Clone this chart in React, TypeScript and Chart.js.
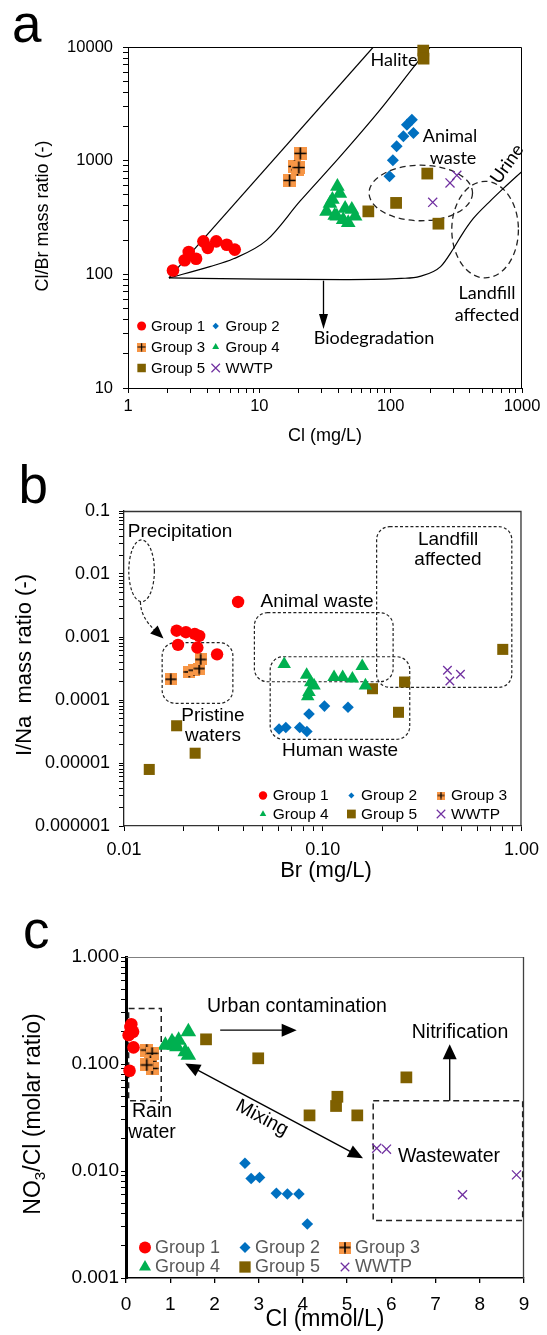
import React, { useEffect, useRef } from "react";
import { Chart, registerables } from "chart.js";
import { drawPoint } from "chart.js/helpers";

Chart.register(...registerables);

type Pt = [number, number];
const ARIAL = "'Liberation Sans', Arial, Helvetica, sans-serif";
const CALIBRI = "Lato, 'Open Sans', sans-serif";

const RED = "#FF0000";
const BLUE = "#0070C0";
const ORANGE = "#F79646";
const GREEN = "#00B050";
const BROWN = "#7F6000";
const PURPLE = "#7030A0";

const GROUP_LABELS = ["Group 1", "Group 2", "Group 3", "Group 4", "Group 5", "WWTP"];

// ---------------- Panel a : Cl (mg/L) vs Cl/Br mass ratio ----------------
const A_X_TICKS = [1, 10, 100, 1000];
const A_X_LABELS = ["1", "10", "100", "1000"];
const A_Y_TICKS = [10, 100, 1000, 10000];
const A_Y_LABELS = ["10", "100", "1000", "10000"];
const A_G1: Pt[] = [[2.2, 108], [2.7, 133], [2.9, 157], [3.3, 137], [3.75, 195], [4.05, 171], [4.7, 195], [5.65, 182], [6.5, 165]];
const A_G2: Pt[] = [[98, 728], [104, 1007], [111, 1337], [125, 1637], [133, 2075], [145, 2295], [149, 1754]];
const A_G3: Pt[] = [[17, 670], [18.5, 890], [19.5, 830], [20, 870], [20.5, 1160]];
const A_G4: Pt[] = [[32.5, 357], [34.5, 420], [36, 455], [37.5, 330], [38.9, 324], [39.3, 594], [41, 515], [43.5, 302], [45, 380], [47.5, 285], [50.6, 371], [53.6, 324]];
const A_G5: Pt[] = [[67.6, 358], [110, 425], [177, 9300], [178, 7900], [190, 770], [231, 279]];
const A_WWTP: Pt[] = [[209, 430], [283, 637], [319, 743]];
const A_HALITE_UPPER: Pt[] = [[2.05, 93], [73.8, 10000]];
const A_HALITE_LOWER: Pt[] = [[2.05, 93], [4.2, 117], [6.35, 137], [11.4, 200], [20.4, 440], [41, 1080], [83, 2800], [162, 7470], [200, 10000]];
const A_URINE: Pt[] = [[2.05, 93], [10.5, 90.6], [48.6, 90], [120, 92], [167, 96], [240, 117], [300, 168], [350, 225], [426, 310], [560, 430], [722, 570], [1000, 805]];
const A_ELLIPSES: number[][] = [[68.5, 420, 296, 912], [292, 939, 93, 658]]; // xmin,xmax,ymin,ymax
const A_ARROW = [30.8, 88, 33]; // x, from y, to y

// ---------------- Panel b : Br (mg/L) vs I/Na mass ratio ----------------
const B_X_TICKS = [0.01, 0.1, 1];
const B_X_LABELS = ["0.01", "0.10", "1.00"];
const B_Y_TICKS = [0.000001, 0.00001, 0.0001, 0.001, 0.01, 0.1];
const B_Y_LABELS = ["0.000001", "0.00001", "0.0001", "0.001", "0.01", "0.1"];
const B_G1: Pt[] = [[0.0184, 0.00126], [0.0205, 0.00119], [0.0227, 0.00112], [0.0239, 0.00104], [0.0187, 0.00075], [0.0234, 0.00068], [0.0294, 0.00053], [0.0375, 0.0036]];
const B_G2: Pt[] = [[0.0603, 0.0000346], [0.0652, 0.0000367], [0.0766, 0.0000367], [0.0832, 0.0000317], [0.0853, 0.00006], [0.102, 0.00008], [0.134, 0.0000767]];
const B_G3: Pt[] = [[0.0172, 0.000213], [0.0213, 0.000279], [0.0225, 0.000296], [0.0239, 0.000316], [0.0243, 0.00044]];
const B_G4: Pt[] = [[0.064, 0.00037], [0.083, 0.00025], [0.087, 0.00019], [0.0904, 0.00017], [0.0853, 0.000133], [0.084, 0.000114], [0.114, 0.00023], [0.126, 0.00023], [0.141, 0.000218], [0.158, 0.000344], [0.164, 0.00017]];
const B_G5: Pt[] = [[0.0134, 0.0000079], [0.0184, 0.000039], [0.0228, 0.0000143], [0.178, 0.000151], [0.2405, 0.0000638], [0.258, 0.000193], [0.805, 0.000636]];
const B_WWTP: Pt[] = [[0.424, 0.000297], [0.436, 0.0002], [0.493, 0.000256]];
const B_PRECIP: number[] = [0.01057, 0.01422, 0.00363, 0.0347];
const B_BOXES: number[][] = [
  [0.01556, 0.0353, 0.0000887, 0.000813],
  [0.0453, 0.226, 0.000195, 0.00243],
  [0.0544, 0.274, 0.0000238, 0.000486],
  [0.1867, 0.894, 0.000159, 0.0564],
];
const B_CURVE: Pt[] = [[0.0121, 0.0036], [0.0121, 0.00207], [0.0158, 0.00095]];

// ---------------- Panel c : Cl (mmol/L) vs NO3/Cl molar ratio ----------------
const C_Y_TICKS = [0.001, 0.01, 0.1, 1];
const C_Y_LABELS = ["0.001", "0.010", "0.100", "1.000"];
const C_G1: Pt[] = [[0.1, 0.222], [0.12, 0.235], [0.16, 0.2], [0.06, 0.186], [0.17, 0.143], [0.08, 0.0864]];
const C_G2: Pt[] = [[2.69, 0.0118], [2.83, 0.0085], [3.02, 0.0087], [3.4, 0.0062], [3.65, 0.0061], [3.91, 0.0061], [4.1, 0.0032]];
const C_G3: Pt[] = [[0.47, 0.135], [0.59, 0.126], [0.55, 0.105], [0.59, 0.091], [0.47, 0.098]];
const C_G4: Pt[] = [[0.89, 0.15], [1.04, 0.161], [1.09, 0.15], [1.15, 0.145], [1.19, 0.167], [1.34, 0.13], [1.41, 0.2], [1.41, 0.121]];
const C_G5: Pt[] = [[1.81, 0.17], [2.99, 0.113], [4.15, 0.0331], [4.75, 0.0405], [4.78, 0.0494], [5.23, 0.0331], [6.34, 0.075]];
const C_WWTP: Pt[] = [[5.67, 0.0163], [5.89, 0.016], [7.61, 0.006], [8.83, 0.0092]];
const C_RAIN: number[] = [0.059, 0.797, 0.0454, 0.33];
const C_WASTE: number[] = [5.59, 8.97, 0.00344, 0.0454];
const C_URBAN: Pt[] = [[2.13, 0.207], [3.86, 0.207]];
const C_MIXING: Pt[] = [[1.34, 0.101], [5.36, 0.01316]];
const C_NITRI: Pt[] = [[7.32, 0.0454], [7.32, 0.153]];

// ---------------- helpers ----------------
type Style = { ps: any; r: number; fill: string; stroke?: string; bw?: number };

const g3Cache: Record<number, HTMLCanvasElement> = {};
function g3Img(size: number): HTMLCanvasElement {
  if (g3Cache[size]) return g3Cache[size];
  const c = document.createElement("canvas");
  c.width = size;
  c.height = size;
  const g = c.getContext("2d")!;
  g.fillStyle = ORANGE;
  g.fillRect(0, 0, size, size);
  g.strokeStyle = "#000";
  g.lineWidth = size > 10 ? 1.6 : 1.2;
  const m = size / 2;
  const h = size / 2 - 0.5;
  g.beginPath();
  g.moveTo(m - h, m);
  g.lineTo(m + h, m);
  g.moveTo(m, m - h);
  g.lineTo(m, m + h);
  g.stroke();
  g3Cache[size] = c;
  return c;
}

function logTicks(min: number, max: number) {
  const out: number[] = [];
  let e = Math.floor(Math.log10(min) + 1e-9);
  for (let guard = 0; guard < 20; guard++) {
    const base = Math.pow(10, e);
    for (let m = 1; m <= 9; m++) {
      const v = parseFloat((m * base).toPrecision(6));
      if (v > max * (1 + 1e-9)) return out;
      if (v >= min * (1 - 1e-9)) out.push(v);
    }
    e++;
  }
  return out;
}

function labelFor(ticks: number[], labels: string[]) {
  return (v: any) => {
    const n = Number(v);
    const i = ticks.findIndex((t) => Math.abs(t - n) <= Math.abs(t) * 1e-6 + 1e-12);
    return i >= 0 ? labels[i] : "";
  };
}

function ds(data: Pt[], st: Style) {
  return {
    data: data.map(([x, y]) => ({ x, y })),
    pointStyle: st.ps,
    pointRadius: st.r,
    pointHoverRadius: st.r,
    pointBackgroundColor: st.fill,
    pointBorderColor: st.stroke ?? st.fill,
    pointBorderWidth: st.bw ?? 0,
    showLine: false,
    clip: false,
    order: 1,
  };
}

function lineDs(data: Pt[]) {
  return {
    data: data.map(([x, y]) => ({ x, y })),
    showLine: true,
    pointRadius: 0,
    pointHoverRadius: 0,
    borderColor: "#000",
    borderWidth: 1.2,
    cubicInterpolationMode: "monotone",
    order: 10,
  };
}

function P(chart: any, x: number, y: number): [number, number] {
  return [chart.scales.x.getPixelForValue(x), chart.scales.y.getPixelForValue(y)];
}

function head(ctx: CanvasRenderingContext2D, fx: number, fy: number, tx: number, ty: number, len: number, wid: number) {
  const a = Math.atan2(ty - fy, tx - fx);
  const bx = tx - len * Math.cos(a);
  const by = ty - len * Math.sin(a);
  ctx.beginPath();
  ctx.moveTo(tx, ty);
  ctx.lineTo(bx + (wid / 2) * Math.sin(a), by - (wid / 2) * Math.cos(a));
  ctx.lineTo(bx - (wid / 2) * Math.sin(a), by + (wid / 2) * Math.cos(a));
  ctx.closePath();
  ctx.fill();
}

function arrow(ctx: CanvasRenderingContext2D, x1: number, y1: number, x2: number, y2: number, len: number, wid: number, both = false) {
  const a = Math.atan2(y2 - y1, x2 - x1);
  const c = Math.cos(a), s = Math.sin(a);
  ctx.beginPath();
  ctx.moveTo(both ? x1 + len * 0.8 * c : x1, both ? y1 + len * 0.8 * s : y1);
  ctx.lineTo(x2 - len * 0.8 * c, y2 - len * 0.8 * s);
  ctx.stroke();
  head(ctx, x1, y1, x2, y2, len, wid);
  if (both) head(ctx, x2, y2, x1, y1, len, wid);
}

function ellipseBox(ctx: CanvasRenderingContext2D, chart: any, b: number[]) {
  const [x0, y0] = P(chart, b[0], b[2]);
  const [x1, y1] = P(chart, b[1], b[3]);
  ctx.beginPath();
  ctx.ellipse((x0 + x1) / 2, (y0 + y1) / 2, Math.abs(x1 - x0) / 2, Math.abs(y1 - y0) / 2, 0, 0, Math.PI * 2);
  ctx.stroke();
}

function rectBox(ctx: CanvasRenderingContext2D, chart: any, b: number[], r: number) {
  const [x0, y0] = P(chart, b[0], b[2]);
  const [x1, y1] = P(chart, b[1], b[3]);
  const l = Math.min(x0, x1), t = Math.min(y0, y1);
  const w = Math.abs(x1 - x0), h = Math.abs(y1 - y0);
  ctx.beginPath();
  if (r > 0 && (ctx as any).roundRect) (ctx as any).roundRect(l, t, w, h, r);
  else ctx.rect(l, t, w, h);
  ctx.stroke();
}

function T(ctx: CanvasRenderingContext2D, s: string, x: number, y: number, font: string, opt: { align?: CanvasTextAlign; color?: string; rot?: number; base?: CanvasTextBaseline } = {}) {
  ctx.save();
  ctx.translate(x, y);
  if (opt.rot) ctx.rotate((opt.rot * Math.PI) / 180);
  ctx.font = font;
  ctx.fillStyle = opt.color ?? "#000";
  ctx.textAlign = opt.align ?? "center";
  ctx.textBaseline = opt.base ?? "middle";
  ctx.fillText(s, 0, 0);
  ctx.restore();
}

function legend(ctx: CanvasRenderingContext2D, styles: Style[], mx: number[], tx: number[], rows: number[], cols: number, font: string, color: string, off: number) {
  styles.forEach((st, i) => {
    const col = i % cols;
    const row = Math.floor(i / cols);
    const y = rows[row] - off;
    ctx.save();
    ctx.fillStyle = st.fill;
    ctx.strokeStyle = st.stroke ?? st.fill;
    ctx.lineWidth = st.bw ?? 0;
    drawPoint(ctx, { pointStyle: st.ps, radius: st.r, rotation: 0, borderWidth: st.bw ?? 0 } as any, mx[col], y);
    ctx.restore();
    T(ctx, GROUP_LABELS[i], tx[col], y + 0.5, font, { align: "left", color });
  });
}

function logAxis(min: number, max: number, ticks: number[], labels: string[], size: number, pad: number, fit: number, vertical: boolean, border: { color: string; width: number }) {
  return {
    type: "logarithmic",
    position: vertical ? "left" : "bottom",
    min,
    max,
    afterBuildTicks: (s: any) => {
      s.ticks = logTicks(min, max).map((value) => ({ value }));
    },
    afterFit: (s: any) => {
      if (vertical) s.width = fit;
      else s.height = fit;
    },
    ticks: { callback: labelFor(ticks, labels), autoSkip: false, maxRotation: 0, minRotation: 0, font: { family: ARIAL, size }, color: "#000", padding: pad },
    grid: { display: true, drawOnChartArea: false, drawTicks: true, tickLength: 5, color: "#000", lineWidth: 1 },
    border: { display: true, color: border.color, width: border.width },
  };
}

function baseOptions(padding: any, scales: any) {
  return {
    responsive: false,
    maintainAspectRatio: false,
    animation: false,
    devicePixelRatio: 1,
    events: [],
    layout: { padding },
    plugins: { legend: { display: false }, tooltip: { enabled: false }, title: { display: false } },
    scales,
  };
}

// ---------------- panel a ----------------
const OFF_A = 0;
function buildA() {
  const S: Style[] = [
    { ps: "circle", r: 6.3, fill: RED },
    { ps: "rectRot", r: 6, fill: BLUE },
    { ps: g3Img(13), r: 6.5, fill: ORANGE },
    { ps: "triangle", r: 8.5, fill: GREEN },
    { ps: "rect", r: 8.3, fill: BROWN },
    { ps: "crossRot", r: 6.4, fill: PURPLE, stroke: PURPLE, bw: 1.3 },
  ];
  const LS: Style[] = [
    { ps: "circle", r: 4.5, fill: RED },
    { ps: "rectRot", r: 3.2, fill: BLUE },
    { ps: g3Img(9), r: 4.5, fill: ORANGE },
    { ps: "triangle", r: 4, fill: GREEN },
    { ps: "rect", r: 6, fill: BROWN },
    { ps: "crossRot", r: 6, fill: PURPLE, stroke: PURPLE, bw: 1.2 },
  ];
  const plugin = {
    id: "panelA",
    beforeDatasetsDraw(chart: any) {
      const { ctx, chartArea: ca } = chart;
      ctx.save();
      ctx.strokeStyle = "#000";
      ctx.lineWidth = 1;
      ctx.beginPath();
      ctx.moveTo(ca.left, ca.top + 0.5);
      ctx.lineTo(ca.right - 0.5, ca.top + 0.5);
      ctx.lineTo(ca.right - 0.5, ca.bottom);
      ctx.stroke();
      ctx.setLineDash([6, 4]);
      ctx.lineWidth = 1.3;
      ctx.strokeStyle = "#222";
      A_ELLIPSES.forEach((b) => ellipseBox(ctx, chart, b));
      ctx.setLineDash([]);
      ctx.strokeStyle = "#000";
      ctx.fillStyle = "#000";
      ctx.lineWidth = 1.3;
      const [ax, ay1] = P(chart, A_ARROW[0], A_ARROW[1]);
      const [, ay2] = P(chart, A_ARROW[0], A_ARROW[2]);
      arrow(ctx, ax, ay1, ax, ay2, 15, 9);
      ctx.restore();
    },
    afterDraw(chart: any) {
      const ctx: CanvasRenderingContext2D = chart.ctx;
      const o = OFF_A;
      T(ctx, "a", 12, 42 - o, `53px ${ARIAL}`, { align: "left", base: "alphabetic" });
      const f = `18px ${CALIBRI}`;
      T(ctx, "Halite", 394, 60 - o, f);
      T(ctx, "Animal", 450, 136 - o, f);
      T(ctx, "waste", 453, 158 - o, f);
      T(ctx, "Urine", 507, 164 - o, f, { rot: -55 });
      T(ctx, "Landfill", 487, 293 - o, f);
      T(ctx, "affected", 487, 315 - o, f);
      T(ctx, "Biodegradation", 374, 338 - o, f);
      T(ctx, "Cl/Br mass ratio (-)", 43, 216 - o, `18px ${ARIAL}`, { rot: -90 });
      T(ctx, "Cl (mg/L)", 325, 436 - o, `18px ${ARIAL}`);
      legend(ctx, LS, [141.6, 215.7], [151, 225.5], [326, 347, 368], 2, `15px ${ARIAL}`, "#000", o);
    },
  };
  return {
    type: "scatter",
    data: {
      datasets: [
        ds(A_G1, S[0]), ds(A_G2, S[1]), ds(A_G3, S[2]), ds(A_G4, S[3]), ds(A_G5, S[4]), ds(A_WWTP, S[5]),
        lineDs(A_HALITE_UPPER), lineDs(A_HALITE_LOWER), lineDs(A_URINE),
      ],
    },
    options: baseOptions({ left: 0, right: 25, top: 47, bottom: 22 }, {
      x: logAxis(1, 1000, A_X_TICKS, A_X_LABELS, 16.5, 4, 40, false, { color: "#000", width: 1 }),
      y: logAxis(10, 10000, A_Y_TICKS, A_Y_LABELS, 16.5, 10, 128, true, { color: "#000", width: 1 }),
    }),
    plugins: [plugin],
  };
}

// ---------------- panel b ----------------
const OFF_B = 450;
function buildB() {
  const S: Style[] = [
    { ps: "circle", r: 6.2, fill: RED },
    { ps: "rectRot", r: 5.8, fill: BLUE },
    { ps: g3Img(12), r: 6, fill: ORANGE },
    { ps: "triangle", r: 7.8, fill: GREEN },
    { ps: "rect", r: 7.8, fill: BROWN },
    { ps: "crossRot", r: 6, fill: PURPLE, stroke: PURPLE, bw: 1.3 },
  ];
  const LS: Style[] = [
    { ps: "circle", r: 4.2, fill: RED },
    { ps: "rectRot", r: 3, fill: BLUE },
    { ps: g3Img(8), r: 4, fill: ORANGE },
    { ps: "triangle", r: 3.8, fill: GREEN },
    { ps: "rect", r: 6.2, fill: BROWN },
    { ps: "crossRot", r: 6, fill: PURPLE, stroke: PURPLE, bw: 1.2 },
  ];
  const plugin = {
    id: "panelB",
    beforeDatasetsDraw(chart: any) {
      const { ctx, chartArea: ca } = chart;
      ctx.save();
      ctx.strokeStyle = "#333";
      ctx.lineWidth = 1.3;
      ctx.beginPath();
      ctx.moveTo(ca.left, ca.top + 0.5);
      ctx.lineTo(ca.right - 0.5, ca.top + 0.5);
      ctx.lineTo(ca.right - 0.5, ca.bottom);
      ctx.stroke();
      ctx.strokeStyle = "#222";
      ctx.lineWidth = 1.2;
      ctx.setLineDash([3, 2.2]);
      ellipseBox(ctx, chart, B_PRECIP);
      B_BOXES.forEach((b) => rectBox(ctx, chart, b, 13));
      const [sx, sy] = P(chart, B_CURVE[0][0], B_CURVE[0][1]);
      const [cx, cy] = P(chart, B_CURVE[1][0], B_CURVE[1][1]);
      const [ex, ey] = P(chart, B_CURVE[2][0], B_CURVE[2][1]);
      const len = 13;
      const a = Math.atan2(ey - cy, ex - cx);
      ctx.beginPath();
      ctx.moveTo(sx, sy);
      ctx.quadraticCurveTo(cx, cy, ex - len * 0.8 * Math.cos(a), ey - len * 0.8 * Math.sin(a));
      ctx.stroke();
      ctx.setLineDash([]);
      ctx.fillStyle = "#000";
      head(ctx, cx, cy, ex, ey, len, 11);
      ctx.restore();
    },
    afterDraw(chart: any) {
      const ctx: CanvasRenderingContext2D = chart.ctx;
      const o = OFF_B;
      T(ctx, "b", 18.5, 503 - o, `53px ${ARIAL}`, { align: "left", base: "alphabetic" });
      const f = `19px ${ARIAL}`;
      T(ctx, "Precipitation", 180, 532 - o, f);
      T(ctx, "Animal waste", 317, 602 - o, f);
      T(ctx, "Pristine", 213, 716 - o, f);
      T(ctx, "waters", 213, 736 - o, f);
      T(ctx, "Human waste", 340, 751 - o, f);
      T(ctx, "Landfill", 448, 540 - o, f);
      T(ctx, "affected", 448, 560 - o, f);
      T(ctx, "I/Na  mass ratio (-)", 25, 665 - o, `22px ${ARIAL}`, { rot: -90 });
      T(ctx, "Br (mg/L)", 326, 871 - o, `22px ${ARIAL}`);
      legend(ctx, LS, [263, 351.4, 441], [272.7, 361, 451], [795.5, 814], 3, `15.5px ${ARIAL}`, "#000", o);
    },
  };
  return {
    type: "scatter",
    data: {
      datasets: [ds(B_G1, S[0]), ds(B_G2, S[1]), ds(B_G3, S[2]), ds(B_G4, S[3]), ds(B_G5, S[4]), ds(B_WWTP, S[5])],
    },
    options: baseOptions({ left: 0, right: 25, top: 61, bottom: 24 }, {
      x: logAxis(0.01, 1, B_X_TICKS, B_X_LABELS, 18, 8, 40, false, { color: "#333", width: 1.3 }),
      y: logAxis(0.000001, 0.1, B_Y_TICKS, B_Y_LABELS, 18, 9, 124, true, { color: "#222", width: 1.3 }),
    }),
    plugins: [plugin],
  };
}

// ---------------- panel c ----------------
const OFF_C = 890;
function buildC() {
  const S: Style[] = [
    { ps: "circle", r: 6.3, fill: RED },
    { ps: "rectRot", r: 5.8, fill: BLUE },
    { ps: g3Img(13), r: 6.5, fill: ORANGE },
    { ps: "triangle", r: 9, fill: GREEN },
    { ps: "rect", r: 8.3, fill: BROWN },
    { ps: "crossRot", r: 6.4, fill: PURPLE, stroke: PURPLE, bw: 1.3 },
  ];
  const LS: Style[] = [
    { ps: "circle", r: 6, fill: RED },
    { ps: "rectRot", r: 5.5, fill: BLUE },
    { ps: g3Img(12), r: 6, fill: ORANGE },
    { ps: "triangle", r: 7, fill: GREEN },
    { ps: "rect", r: 8, fill: BROWN },
    { ps: "crossRot", r: 6, fill: PURPLE, stroke: PURPLE, bw: 1.3 },
  ];
  const plugin = {
    id: "panelC",
    beforeDatasetsDraw(chart: any) {
      const { ctx, chartArea: ca } = chart;
      ctx.save();
      ctx.lineWidth = 1;
      ctx.strokeStyle = "#808080";
      ctx.beginPath();
      ctx.moveTo(ca.left, ca.top + 0.5);
      ctx.lineTo(ca.right, ca.top + 0.5);
      ctx.stroke();
      ctx.strokeStyle = "#404040";
      ctx.lineWidth = 1.3;
      ctx.beginPath();
      ctx.moveTo(ca.right - 0.5, ca.top);
      ctx.lineTo(ca.right - 0.5, ca.bottom);
      ctx.stroke();
      ctx.strokeStyle = "#222";
      ctx.lineWidth = 1.5;
      ctx.setLineDash([6, 4]);
      rectBox(ctx, chart, C_RAIN, 0);
      rectBox(ctx, chart, C_WASTE, 0);
      ctx.setLineDash([]);
      ctx.strokeStyle = "#000";
      ctx.fillStyle = "#000";
      ctx.lineWidth = 1.3;
      const u0 = P(chart, C_URBAN[0][0], C_URBAN[0][1]);
      const u1 = P(chart, C_URBAN[1][0], C_URBAN[1][1]);
      arrow(ctx, u0[0], u0[1], u1[0], u1[1], 15, 13);
      const m0 = P(chart, C_MIXING[0][0], C_MIXING[0][1]);
      const m1 = P(chart, C_MIXING[1][0], C_MIXING[1][1]);
      arrow(ctx, m0[0], m0[1], m1[0], m1[1], 15, 13, true);
      const n0 = P(chart, C_NITRI[0][0], C_NITRI[0][1]);
      const n1 = P(chart, C_NITRI[1][0], C_NITRI[1][1]);
      arrow(ctx, n0[0], n0[1], n1[0], n1[1], 15, 14);
      ctx.restore();
    },
    afterDraw(chart: any) {
      const ctx: CanvasRenderingContext2D = chart.ctx;
      const o = OFF_C;
      T(ctx, "c", 23, 948 - o, `53px ${ARIAL}`, { align: "left", base: "alphabetic" });
      const f = `19.5px ${ARIAL}`;
      T(ctx, "Urban contamination", 297, 1007 - o, f);
      T(ctx, "Nitrification", 460, 1033 - o, f);
      T(ctx, "Wastewater", 449, 1157 - o, f);
      T(ctx, "Rain", 152, 1112 - o, f);
      T(ctx, "water", 152, 1133 - o, f);
      T(ctx, "Mixing", 262, 1118 - o, f, { rot: 28 });
      const size = 23;
      ctx.save();
      ctx.translate(32, 1114 - o);
      ctx.rotate(-Math.PI / 2);
      const fb = `${size}px ${ARIAL}`;
      const fs = `${size * 0.66}px ${ARIAL}`;
      ctx.font = fb;
      const w1 = ctx.measureText("NO").width;
      const w3 = ctx.measureText("/Cl (molar ratio)").width;
      ctx.font = fs;
      const w2 = ctx.measureText("3").width;
      let cx = -(w1 + w2 + w3) / 2;
      const base = size * 0.35;
      ctx.fillStyle = "#000";
      ctx.textAlign = "left";
      ctx.textBaseline = "alphabetic";
      ctx.font = fb;
      ctx.fillText("NO", cx, base);
      cx += w1;
      ctx.font = fs;
      ctx.fillText("3", cx, base + size * 0.2);
      cx += w2;
      ctx.font = fb;
      ctx.fillText("/Cl (molar ratio)", cx, base);
      ctx.restore();
      T(ctx, "Cl (mmol/L)", 325, 1320 - o, `23px ${ARIAL}`);
      legend(ctx, LS, [145, 245, 345], [155, 255, 355], [1247.5, 1267], 3, `18px ${ARIAL}`, "#595959", o);
    },
  };
  return {
    type: "scatter",
    data: {
      datasets: [ds(C_G1, S[0]), ds(C_G2, S[1]), ds(C_G3, S[2]), ds(C_G4, S[3]), ds(C_G5, S[4]), ds(C_WWTP, S[5])],
    },
    options: baseOptions({ left: 0, right: 23, top: 67, bottom: 17 }, {
      x: {
        type: "linear",
        position: "bottom",
        min: 0,
        max: 9,
        afterFit: (s: any) => {
          s.height = 40;
        },
        ticks: { stepSize: 1, autoSkip: false, maxRotation: 0, font: { family: ARIAL, size: 19 }, color: "#000", padding: 10 },
        grid: { display: true, drawOnChartArea: false, drawTicks: true, tickLength: 5, color: "#000", lineWidth: 1.3 },
        border: { display: true, color: "#000", width: 1.6 },
      },
      y: logAxis(0.001, 1, C_Y_TICKS, C_Y_LABELS, 19, 2, 126, true, { color: "#000", width: 3 }),
    }),
    plugins: [plugin],
  };
}

export default function App() {
  const refA = useRef<HTMLCanvasElement | null>(null);
  const refB = useRef<HTMLCanvasElement | null>(null);
  const refC = useRef<HTMLCanvasElement | null>(null);
  useEffect(() => {
    const charts = [
      new Chart(refA.current as any, buildA() as any),
      new Chart(refB.current as any, buildB() as any),
      new Chart(refC.current as any, buildC() as any),
    ];
    return () => charts.forEach((c) => c.destroy());
  }, []);
  const cs = (top: number, h: number): React.CSSProperties => ({ position: "absolute", left: 0, top, width: 547, height: h, display: "block" });
  return (
    <div style={{ position: "absolute", left: 0, top: 0, width: 547, height: 1335, background: "#fff", overflow: "hidden" }}>
      <canvas ref={refA} width={547} height={450} style={cs(0, 450)} />
      <canvas ref={refB} width={547} height={440} style={cs(450, 440)} />
      <canvas ref={refC} width={547} height={445} style={cs(890, 445)} />
    </div>
  );
}
